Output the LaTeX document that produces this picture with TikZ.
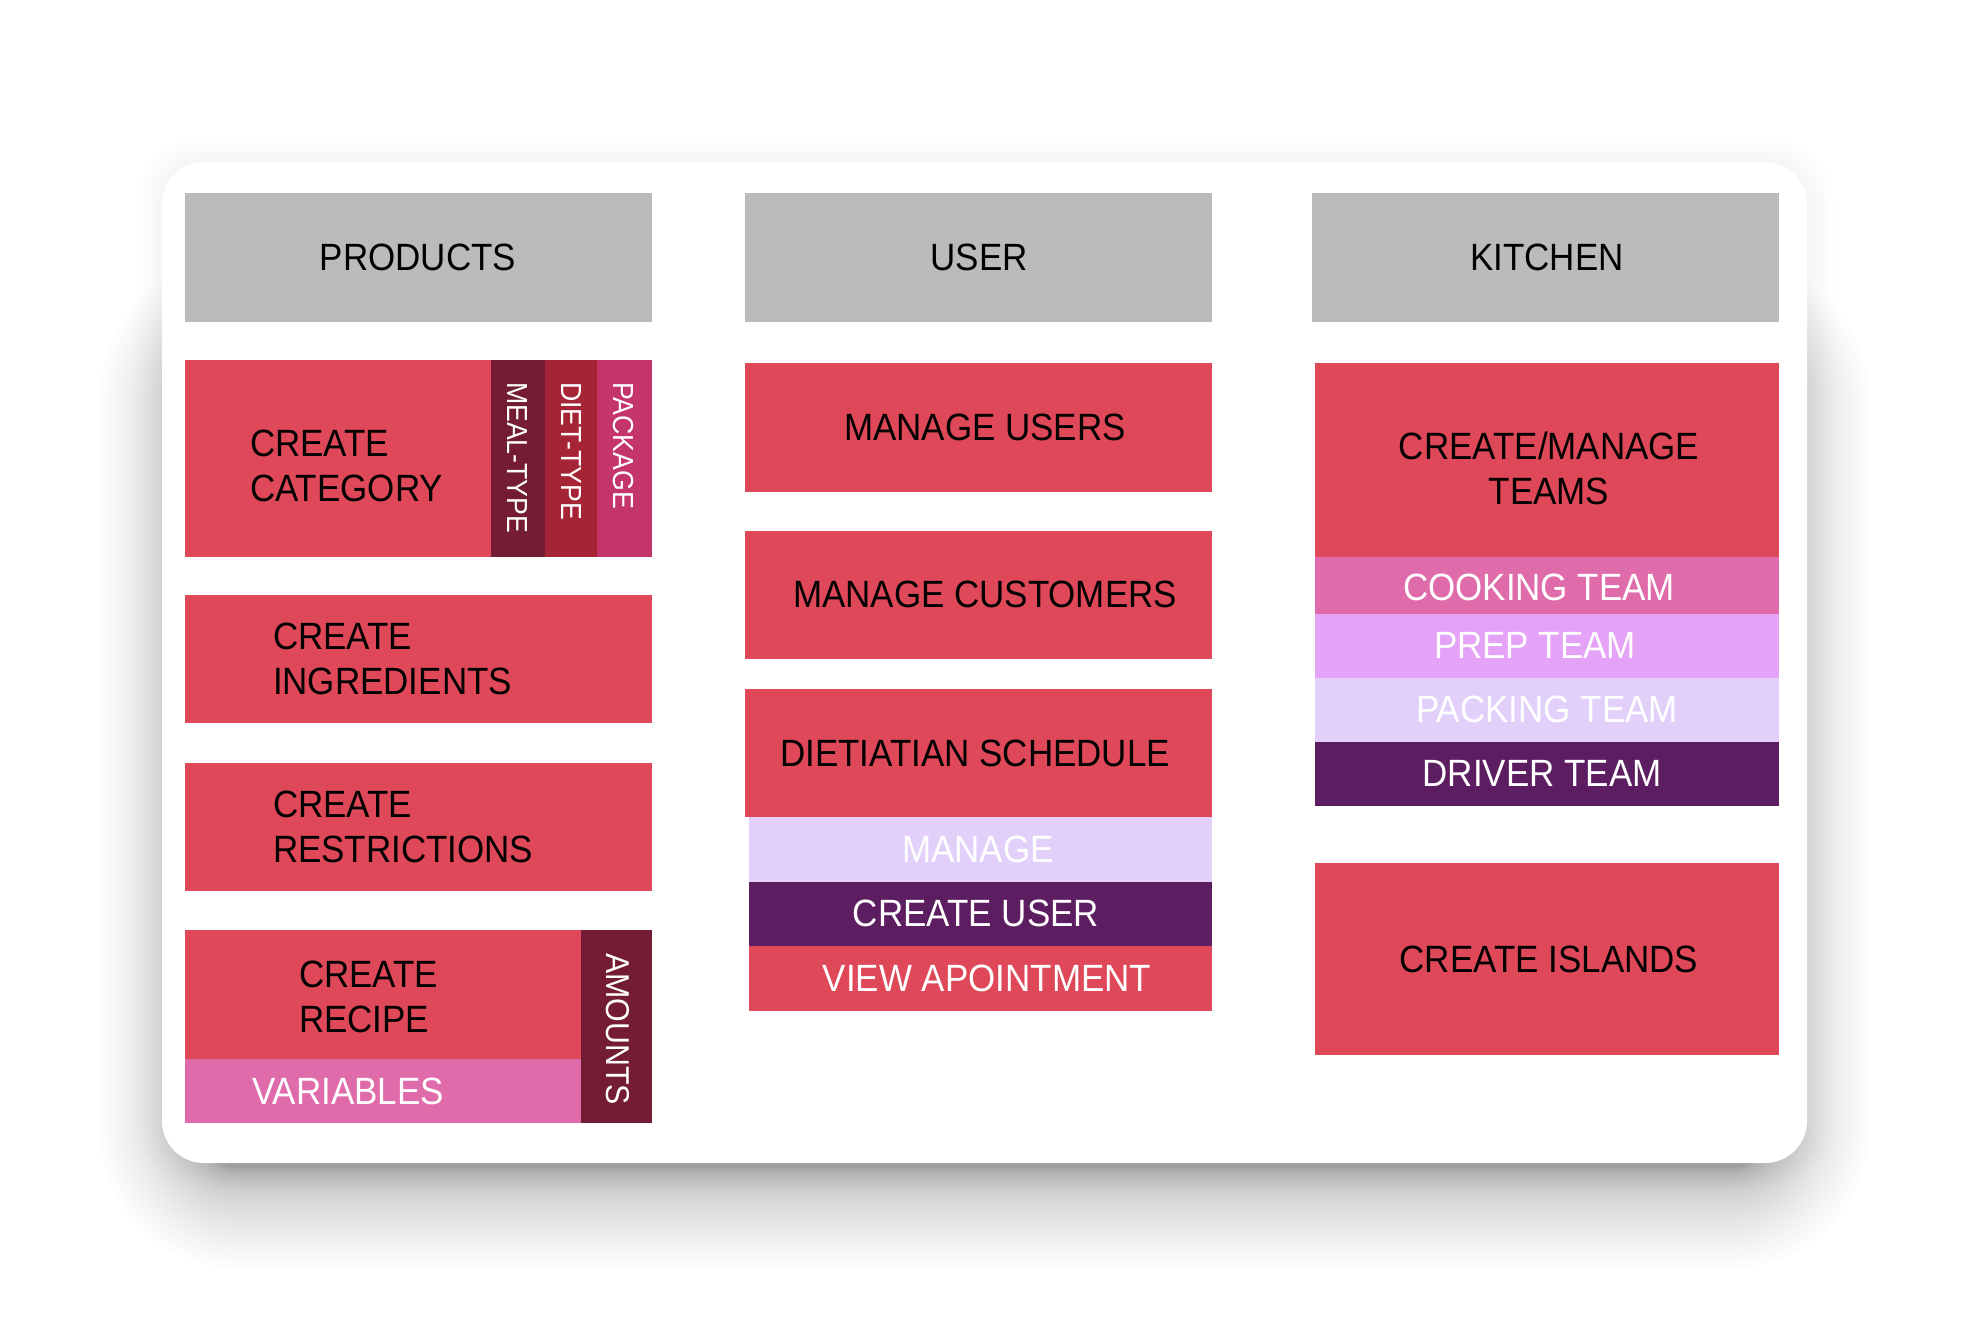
\documentclass[tikz,border=0pt]{standalone}
\usepackage{fontspec}
\setmainfont{Liberation Sans}[FakeStretch=0.92]
\usetikzlibrary{fit}
\definecolor{cred}{HTML}{DE4858}
\definecolor{cgrey}{HTML}{BBBBBB}
\definecolor{cmeal}{HTML}{731C33}
\definecolor{cdiet}{HTML}{A52537}
\definecolor{cpack}{HTML}{C4356B}
\definecolor{cpink}{HTML}{E06BAA}
\definecolor{cprep}{HTML}{E4A3F6}
\definecolor{clav}{HTML}{E2D0FA}
\definecolor{cpurp}{HTML}{5C1E61}
\begin{document}
\begin{tikzpicture}[x=1pt,y=-1pt,
  box/.style={rectangle,inner sep=0pt,outer sep=0pt,draw=none},
  big/.style={inner sep=0pt,outer sep=0pt,font=\fontsize{38}{45}\selectfont,text=black},
  wbig/.style={big,text=white},
  vert/.style={inner sep=0pt,outer sep=0pt,font=\fontsize{29}{34}\selectfont,text=white,rotate=-90}]
\fill[white] (0,0) rectangle (1970,1326);
\useasboundingbox (0,0) rectangle (1970,1326);
% faint ambient shadow all round the card
\foreach \i in {0,...,9}{
  \pgfmathsetmacro\e{\i*3}
  \pgfmathsetmacro\r{42+\e}
  \fill[black,opacity=0.005,rounded corners=\r pt] (162-\e,162-\e) rectangle (1807+\e,1163+\e);
}
% main shadow of the card, cast downwards
\foreach \i in {0,...,30}{
  \pgfmathsetmacro\e{\i*\i/9}
  \pgfmathsetmacro\r{40+\e}
  \fill[black,opacity=0.011,rounded corners=\r pt] (200-\e,360-\e) rectangle (1769+\e,1168+\e);
}
% card
\node[box,fill=white,rounded corners=42pt,fit={(162,162) (1807,1163)}] (card) {};
% headers
\node[box,fill=cgrey,fit={(185,193) (652,322)}] (hP) {};
\node[box,fill=cgrey,fit={(745,193) (1212,322)}] (hU) {};
\node[box,fill=cgrey,fit={(1312,193) (1779,322)}] (hK) {};
\node[big] (tP) at (418,257) {PRODUCTS};
\node[big] (tU) at (979,257) {USER};
\node[big] (tK) at (1547,257) {KITCHEN};
% column 1
\node[box,fill=cred,fit={(185,360) (491,557)}] (cat) {};
\node[box,fill=cmeal,fit={(491,360) (545,557)}] (meal) {};
\node[box,fill=cdiet,fit={(545,360) (597,557)}] (diet) {};
\node[box,fill=cpack,fit={(597,360) (652,557)}] (pack) {};
\node[big,anchor=west,align=left] (tcat) at (250,466) {CREATE\\CATEGORY};
\node[vert,anchor=west] (tmeal) at (517,382) {MEAL-TYPE};
\node[vert,anchor=west] (tdiet) at (571,382) {DIET-TYPE};
\node[vert,anchor=west] (tpack) at (623,382) {PACKAGE};
\node[box,fill=cred,fit={(185,595) (652,723)}] (ingr) {};
\node[big,anchor=west,align=left] (tingr) at (273,659) {CREATE\\INGREDIENTS};
\node[box,fill=cred,fit={(185,763) (652,891)}] (restr) {};
\node[big,anchor=west,align=left] (trestr) at (273,827) {CREATE\\RESTRICTIONS};
\node[box,fill=cred,fit={(185,930) (581,1059)}] (recipe) {};
\node[box,fill=cpink,fit={(185,1059) (581,1123)}] (vars) {};
\node[box,fill=cmeal,fit={(581,930) (652,1123)}] (amounts) {};
\node[big,anchor=west,align=left] (trecipe) at (299,997) {CREATE\\RECIPE};
\node[wbig,anchor=west] (tvars) at (252,1091) {VARIABLES};
\node[vert,font=\fontsize{33}{38}\selectfont] (tamounts) at (618,1029) {AMOUNTS};
% column 2
\node[box,fill=cred,fit={(745,363) (1212,492)}] (musers) {};
\node[big] (tmusers) at (985,427) {MANAGE USERS};
\node[box,fill=cred,fit={(745,531) (1212,659)}] (mcust) {};
\node[big] (tmcust) at (985,594) {MANAGE CUSTOMERS};
\node[box,fill=cred,fit={(745,689) (1212,817)}] (dsched) {};
\node[big] (tdsched) at (975,753) {DIETIATIAN SCHEDULE};
\node[box,fill=clav,fit={(749,817) (1212,882)}] (manage) {};
\node[wbig] (tmanage) at (978,849) {MANAGE};
\node[box,fill=cpurp,fit={(749,882) (1212,946)}] (cuser) {};
\node[wbig] (tcuser) at (976,913) {CREATE USER};
\node[box,fill=cred,fit={(749,946) (1212,1011)}] (view) {};
\node[wbig] (tview) at (987,978) {VIEW APOINTMENT};
% column 3
\node[box,fill=cred,fit={(1315,363) (1779,557)}] (teams) {};
\node[big,align=center] (tteams) at (1549,468) {CREATE/MANAGE\\TEAMS};
\node[box,fill=cpink,fit={(1315,557) (1779,614)}] (cook) {};
\node[wbig] (tcook) at (1539,587) {COOKING TEAM};
\node[box,fill=cprep,fit={(1315,614) (1779,678)}] (prep) {};
\node[wbig] (tprep) at (1535,645) {PREP TEAM};
\node[box,fill=clav,fit={(1315,678) (1779,742)}] (packing) {};
\node[wbig] (tpacking) at (1547,709) {PACKING TEAM};
\node[box,fill=cpurp,fit={(1315,742) (1779,806)}] (driver) {};
\node[wbig] (tdriver) at (1542,773) {DRIVER TEAM};
\node[box,fill=cred,fit={(1315,863) (1779,1055)}] (islands) {};
\node[big] (tislands) at (1549,959) {CREATE ISLANDS};
\end{tikzpicture}
\end{document}
